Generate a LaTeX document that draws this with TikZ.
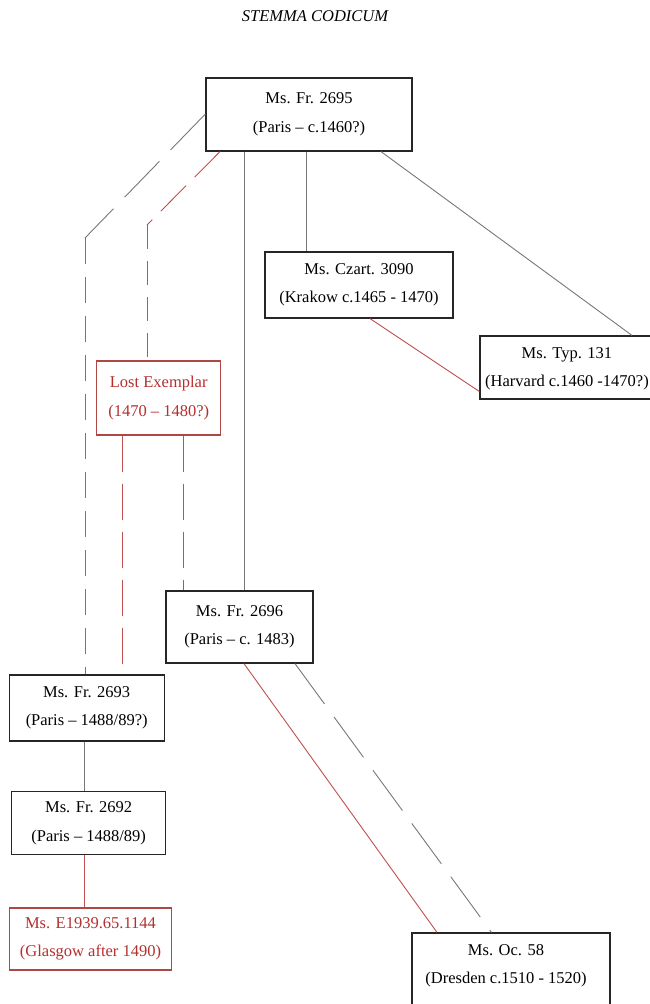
\documentclass[tikz,border=0pt]{standalone}
\usepackage{fontspec}
\setmainfont{Liberation Serif}
\definecolor{lred}{HTML}{C0504D}
\definecolor{tred}{HTML}{B52F2F}
\definecolor{lgray}{HTML}{777777}
\begin{document}
\begin{tikzpicture}[x=1pt,y=-1pt,
  ms/.style={draw=black!85,line width=1.2pt,fill=white,align=center,inner sep=0pt,
    font=\fontsize{16.5}{28.5}\selectfont},
  redms/.style={ms,draw=lred!90!black,text=tred},
  gline/.style={draw=lgray,line width=0.9pt},
  rline/.style={draw=lred,line width=0.9pt},
  gdash/.style={gline,dash pattern=on 50pt off 16pt},
  gvdash/.style={gline,dash pattern=on 26pt off 13pt},
  rdash/.style={rline,dash pattern=on 36pt off 12pt},
  rvdash/.style={rline,dash pattern=on 24pt off 12pt}]
\useasboundingbox (0,0) rectangle (649,1004);
\node[font=\fontsize{16.5}{20}\selectfont\itshape] (title) at (315,16) {STEMMA CODICUM};
% coordinates
\coordinate (v1) at (244,0);
\coordinate (v2) at (306,0);
\coordinate (v3) at (122,0);
\coordinate (v4) at (183,0);
\coordinate (v5) at (84,0);
\coordinate (bk) at (85,238);
\coordinate (rk) at (147,225);
% connectors first (under boxes)
\node[ms,minimum width=206,minimum height=73] (top) at (309,114.5) {Ms. Fr. 2695\\(Paris – c.1460?)};
\node[ms,minimum width=188,minimum height=66] (czart) at (359,285) {Ms. Czart. 3090\\(Krakow c.1465 - 1470)};
\node[ms,minimum width=176,minimum height=63,text depth=0pt] (typ) at (568,367.5) {};
\node[font=\fontsize{16.5}{28.5}\selectfont,align=center] (typt) at (567,369) {Ms. Typ. 131\\(Harvard c.1460 -1470?)};
\node[redms,minimum width=124,minimum height=74] (lost) at (158.7,398) {Lost Exemplar\\(1470 – 1480?)};
\node[ms,minimum width=147,minimum height=72] (f2696) at (239.5,627) {Ms. Fr. 2696\\(Paris – c. 1483)};
\node[ms,minimum width=155,minimum height=66] (f2693) at (86.7,708) {Ms. Fr. 2693\\(Paris – 1488/89?)};
\node[ms,minimum width=154,minimum height=63] (f2692) at (88.7,823.3) {Ms. Fr. 2692\\(Paris – 1488/89)};
\node[redms,minimum width=162,minimum height=62] (glas) at (90.5,939) {Ms. E1939.65.1144\\(Glasgow after 1490)};
\node[ms,minimum width=198,minimum height=80] (oc) at (511,973) {};
\node[font=\fontsize{16.5}{28.5}\selectfont,align=center] (oct) at (506,966) {Ms. Oc. 58\\(Dresden c.1510 - 1520)};
% solid connectors
\draw[gline] (top.south -| v1) -- (f2696.north -| v1);
\draw[gline] (top.south -| v2) -- (czart.north -| v2);
\draw[gline] ([xshift=72pt]top.south) -- ([xshift=64pt]typ.north);
\draw[rline] ([xshift=11pt]czart.south) -- ([yshift=-24pt]typ.west);
\draw[gline] (f2693.south -| v5) -- (f2692.north -| v5);
\draw[rline] (f2692.south -| v5) -- (glas.north -| v5);
\draw[rline] ([xshift=4.5pt]f2696.south) -- ([xshift=-74pt]oc.north);
% dashed connectors
\draw[gdash] ([yshift=0.5pt]top.west) -- (bk);
\draw[gvdash] (bk) -- (f2693.north -| bk);
\draw[rdash] ([xshift=-89pt]top.south) -- (rk);
\draw[rvdash] (rk) -- (lost.north -| rk);
\draw[rdash] (lost.south -| v3) -- (f2693.north -| v3);
\draw[rdash] (lost.south -| v4) -- (f2696.north -| v4);
\draw[gdash] ([xshift=55.5pt]f2696.south) -- ([xshift=-19.5pt]oc.north);
\end{tikzpicture}
\end{document}
